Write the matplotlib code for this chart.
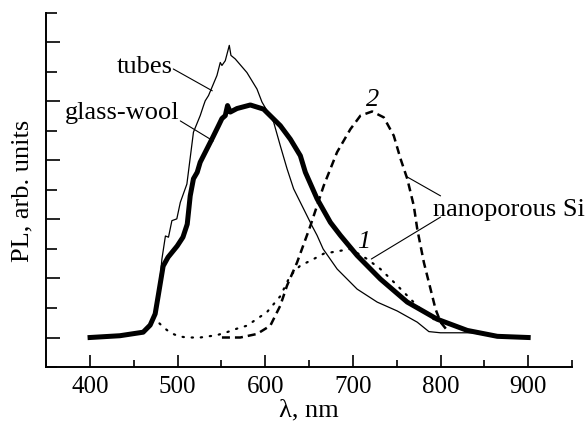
import numpy as np
import matplotlib
matplotlib.use('Agg')
import matplotlib.pyplot as plt

plt.rcParams['font.family'] = ['Liberation Serif', 'DejaVu Serif']
plt.rcParams['font.size'] = 19

# tubes (thin line)
tubes_x = [400, 434, 460, 469, 474, 478, 482, 486, 489.5, 493.4, 499, 503, 510.5, 518, 525.7,
           529.5, 531.4, 535.2, 544.8, 548.6, 550.5, 554.3, 558.9, 560.8, 565.7, 579, 590.5,
           596.2, 609.5, 617.1, 624.8, 632.3, 640, 645.7, 653.4, 659.1, 666, 682,
           704.8, 727.7, 750.5, 773.4, 786.7, 800, 819, 835, 865, 900]
tubes_y = [0.0, 0.03, 0.09, 0.21, 0.4, 0.7, 1.33, 1.72, 1.70, 1.98, 2.01, 2.29, 2.6, 3.48, 3.76,
           3.93, 4.01, 4.1, 4.44, 4.66, 4.61, 4.69, 4.95, 4.78, 4.72, 4.49, 4.21,
           3.99, 3.65, 3.25, 2.86, 2.52, 2.29, 2.12, 1.89, 1.73, 1.5, 1.16,
           0.82, 0.6, 0.45, 0.26, 0.1, 0.08, 0.08, 0.08, 0.02, 0.0]

# glass-wool (thick line)
wool_x = [400, 434, 460.6, 468.6, 474.3, 477.7, 483.4, 489, 499.4, 506, 510.9, 514.3, 518, 522.3,
          525.7, 539, 546.6, 550.5, 554.3, 556.9, 560, 567.7, 582.9, 598, 617.1, 628.6, 640,
          645.7, 659.1, 674.3, 685.7, 704.8, 731.4, 762, 796.2, 830.5, 864.8, 900]
wool_y = [0.0, 0.03, 0.09, 0.21, 0.4, 0.7, 1.21, 1.36, 1.55, 1.7, 1.92, 2.4, 2.69, 2.8,
          2.97, 3.36, 3.59, 3.71, 3.76, 3.93, 3.82, 3.88, 3.94, 3.87, 3.59, 3.36, 3.08,
          2.8, 2.35, 1.95, 1.73, 1.39, 0.99, 0.6, 0.31, 0.12, 0.02, 0.0]

# nanoporous Si, curve 1 (dotted)
si1_x = [472, 478.4, 484, 491.7, 501.3, 510.5, 525.7, 544.8, 556.2, 567.6, 579, 601.9, 617.1,
         628.6, 640, 651.4, 666.6, 685.7, 697.1, 716.2, 731.4, 746.6, 761.9, 777.1, 792.4, 805]
si1_y = [0.35, 0.25, 0.17, 0.08, 0.02, 0.0, 0.0, 0.04, 0.09, 0.15, 0.2, 0.43, 0.7,
         1.05, 1.22, 1.3, 1.42, 1.47, 1.5, 1.33, 1.16, 0.94, 0.71, 0.48, 0.31, 0.22]

# nanoporous Si, curve 2 (dashed)
si2_x = [550.5, 571.4, 590.5, 605.7, 617.1, 624.8, 636.2, 651.4, 666.6, 681.9, 697.1, 708.6,
         721.9, 735.2, 746.6, 754.3, 762, 769.5, 773.4, 781, 788.6, 794.3, 800, 806]
si2_y = [0.0, 0.0, 0.06, 0.2, 0.54, 0.88, 1.27, 1.89, 2.57, 3.14, 3.53, 3.76,
         3.83, 3.73, 3.42, 3.03, 2.69, 2.23, 1.84, 1.27, 0.82, 0.48, 0.26, 0.15]

xticks = [400, 500, 600, 700, 800, 900]

fig = plt.figure(figsize=(5.87, 4.35), dpi=100)
ax = fig.add_axes([0.0788, 0.154, 0.8956, 0.814])

ax.plot(si1_x, si1_y, color='black', lw=1.6, linestyle=(0, (0.6, 3.5)),
        dash_capstyle='round', zorder=2)
ax.plot(si2_x, si2_y, color='black', lw=1.8, linestyle=(0, (3.2, 2.0)), zorder=2)
ax.plot(tubes_x, tubes_y, color='black', lw=0.9, zorder=3)
ax.plot(wool_x, wool_y, color='black', lw=3.6, zorder=4, solid_joinstyle='round')

ax.set_xlim(350, 950)
ax.set_ylim(-0.5, 5.5)
ax.set_xticks(xticks)
ax.set_xticks(np.arange(350, 951, 50), minor=True)
ax.set_yticks(np.arange(0, 5.6, 1))
ax.set_yticks(np.arange(-0.5, 5.6, 0.5), minor=True)
ax.set_yticklabels([])
ax.tick_params(which='both', direction='in', width=1.2)
ax.tick_params(axis='x', which='major', length=9, labelsize=18, pad=6)
ax.tick_params(axis='x', which='minor', length=5)
ax.tick_params(axis='y', which='major', length=10)
ax.tick_params(axis='y', which='minor', length=8)
ax.spines['top'].set_visible(False)
ax.spines['right'].set_visible(False)
ax.spines['left'].set_linewidth(1.4)
ax.spines['bottom'].set_linewidth(1.4)

ax.set_xlabel('λ, nm', labelpad=1)
ax.set_ylabel('PL, arb. units', labelpad=6)

# подписи кривых
line_kw = dict(arrowstyle='-', lw=0.8, color='black', shrinkA=0, shrinkB=0)
ax.text(494, 4.6, 'tubes', ha='right', va='center')
ax.annotate('', xy=(539.5, 4.18), xytext=(495, 4.55), arrowprops=line_kw)
ax.text(502, 3.82, 'glass-wool', ha='right', va='center')
ax.annotate('', xy=(540.6, 3.33), xytext=(503, 3.67), arrowprops=line_kw)
ax.text(791, 2.17, 'nanoporous Si', ha='left', va='center')
ax.annotate('', xy=(762, 2.72), xytext=(800, 2.40), arrowprops=line_kw)
ax.annotate('', xy=(721, 1.33), xytext=(800, 2.04), arrowprops=line_kw)
ax.text(722, 4.04, '2', style='italic', ha='center', va='center')
ax.text(712, 1.63, '1', style='italic', ha='center', va='center')

fig.savefig('out.png', dpi=100)
